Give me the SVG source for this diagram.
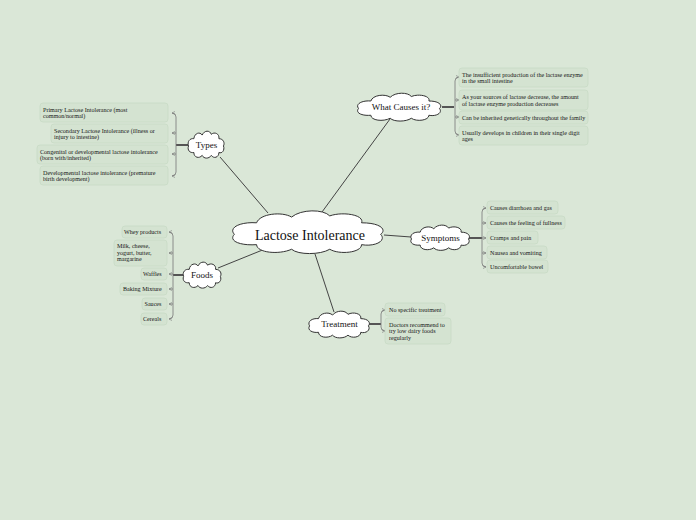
<svg xmlns="http://www.w3.org/2000/svg" xmlns:xlink="http://www.w3.org/1999/xlink" width="696" height="520" viewBox="0 0 696 520">
<style>
.bg{fill:#dae7d7}
.cloud{fill:#ffffff;stroke:#333;stroke-width:1}
.main{stroke:#444;stroke-width:1;fill:none}
.stub{stroke:#555;stroke-width:2;fill:none}
.br{stroke:#777;stroke-width:0.8;fill:none}
.arr{stroke:#777;stroke-width:0.8;fill:none;marker-end:url(#ah)}
.box{fill:#d4e3d1;stroke:#c8dbc5;stroke-width:0.8}
.t{font-family:"Liberation Serif","DejaVu Serif",serif;font-size:6.1px;fill:#151515}
.lbl{font-family:"Liberation Serif","DejaVu Serif",serif;font-size:9px;fill:#111;text-anchor:middle}
.big{font-family:"Liberation Serif","DejaVu Serif",serif;font-size:14px;fill:#111;text-anchor:middle}
</style>
<defs>
<path id="cloud" vector-effect="non-scaling-stroke" d="M4,22 C0,16 8,11 18,12 C20,4 34,2 40,7 C46,0 60,0 64,6 C72,2 86,5 84,12 C96,12 100,18 96,22 C100,28 92,33 84,31 C84,38 70,40 64,35 C58,40 44,40 40,35 C32,40 18,38 18,31 C8,32 0,28 4,22 Z"/>
<marker id="ah" markerWidth="4" markerHeight="4" refX="3" refY="2" orient="auto" markerUnits="userSpaceOnUse">
<path d="M0,0.5 L3,2 L0,3.5" fill="none" stroke="#777" stroke-width="0.6"/>
</marker>
</defs>
<rect class="bg" x="0" y="0" width="696" height="520"/>
<g id="connectors">
<line class="main" x1="322" y1="212" x2="390" y2="119"/>
<line class="main" x1="268" y1="213" x2="220" y2="157"/>
<line class="main" x1="265" y1="249" x2="218" y2="268"/>
<line class="main" x1="384" y1="235" x2="411" y2="237"/>
<line class="main" x1="315" y1="254" x2="334" y2="312"/>
<line class="stub" x1="442" y1="107" x2="454" y2="107"/>
<path class="br" d="M455,81 L455,131"/>
<path class="arr" d="M455,81 Q455,77 459,77"/>
<path class="arr" d="M455,100 L459,100"/>
<path class="arr" d="M455,117 L459,117"/>
<path class="arr" d="M455,131 Q455,135 459,135"/>
<line class="stub" x1="188" y1="145" x2="176" y2="145"/>
<path class="br" d="M176,117 L176,172"/>
<path class="arr" d="M176,117 Q176,113 172,113"/>
<path class="arr" d="M176,133 L172,133"/>
<path class="arr" d="M176,154 L172,154"/>
<path class="arr" d="M176,172 Q176,176 172,176"/>
<line class="stub" x1="183" y1="275" x2="173" y2="275"/>
<path class="br" d="M173,236 L173,315"/>
<path class="arr" d="M173,236 Q173,232 169,232"/>
<path class="arr" d="M173,253 L169,253"/>
<path class="arr" d="M173,274 L169,274"/>
<path class="arr" d="M173,289 L169,289"/>
<path class="arr" d="M173,304 L169,304"/>
<path class="arr" d="M173,315 Q173,319 169,319"/>
<line class="stub" x1="469" y1="238" x2="482" y2="238"/>
<path class="br" d="M482,212 L482,263"/>
<path class="arr" d="M482,212 Q482,208 486,208"/>
<path class="arr" d="M482,223 L486,223"/>
<path class="arr" d="M482,238 L486,238"/>
<path class="arr" d="M482,253 L486,253"/>
<path class="arr" d="M482,263 Q482,267 486,267"/>
<line class="stub" x1="369" y1="324" x2="381" y2="324"/>
<path class="br" d="M381,314 L381,327"/>
<path class="arr" d="M381,314 Q381,310 385,310"/>
<path class="arr" d="M381,327 Q381,331 385,331"/>
</g>
<g id="center">
<use href="#cloud" class="cloud" transform="translate(228,209) scale(1.59,1.15)"/>
<text class="big" x="310" y="239.5">Lactose Intolerance</text>
</g>
<g id="what-causes">
<use href="#cloud" class="cloud" transform="translate(355,92) scale(0.88,0.75)"/>
<text class="lbl" x="401" y="110">What Causes it?</text>
</g>
<g id="cause-1"><rect class="box" x="459" y="68" width="129" height="19" rx="3"/><text class="t" x="462" y="76.5">The insufficient production of the lactase enzyme</text><text class="t" x="462" y="83">in the small intestine</text></g>
<g id="cause-2"><rect class="box" x="459" y="90" width="129" height="20" rx="3"/><text class="t" x="462" y="99">As your sources of lactase decrease, the amount</text><text class="t" x="462" y="105.5">of lactase enzyme production decreases</text></g>
<g id="cause-3"><rect class="box" x="459" y="111" width="129" height="13" rx="3"/><text class="t" x="462" y="119.5">Can be inherited genetically throughout the family</text></g>
<g id="cause-4"><rect class="box" x="459" y="126" width="129" height="19" rx="3"/><text class="t" x="462" y="134.5">Usually develops in children in their single digit</text><text class="t" x="462" y="141">ages</text></g>
<g id="types">
<use href="#cloud" class="cloud" transform="translate(187,130) scale(0.38,0.725)"/>
<text class="lbl" x="206.5" y="147.5">Types</text>
</g>
<g id="type-1"><rect class="box" x="40" y="103" width="128" height="19" rx="3"/><text class="t" x="43" y="111.5">Primary Lactose Intolerance (most</text><text class="t" x="43" y="118">common/normal)</text></g>
<g id="type-2"><rect class="box" x="51" y="124" width="117" height="19" rx="3"/><text class="t" x="54" y="132.5">Secondary Lactose Intolerance (illness or</text><text class="t" x="54" y="139">injury to intestine)</text></g>
<g id="type-3"><rect class="box" x="37" y="145" width="131" height="19" rx="3"/><text class="t" x="40" y="153.5">Congenital or developmental lactose intolerance</text><text class="t" x="40" y="160">(born with/inherited)</text></g>
<g id="type-4"><rect class="box" x="40" y="166" width="128" height="19" rx="3"/><text class="t" x="43" y="174.5">Developmental lactose intolerance (premature</text><text class="t" x="43" y="181">birth development)</text></g>
<g id="foods">
<use href="#cloud" class="cloud" transform="translate(182,261) scale(0.40,0.70)"/>
<text class="lbl" x="202" y="278">Foods</text>
</g>
<g id="food-1"><rect class="box" x="122" y="226" width="45" height="12" rx="3"/><text class="t" x="124" y="233.5">Whey products</text></g>
<g id="food-2"><rect class="box" x="114" y="240" width="53" height="26" rx="3"/><text class="t" x="117" y="248">Milk, cheese,</text><text class="t" x="117" y="254.5">yogurt, butter,</text><text class="t" x="117" y="261">margarine</text></g>
<g id="food-3"><rect class="box" x="141" y="268" width="26" height="12" rx="3"/><text class="t" x="143" y="275.5">Waffles</text></g>
<g id="food-4"><rect class="box" x="120" y="283" width="47" height="12" rx="3"/><text class="t" x="123" y="290.5">Baking Mixture</text></g>
<g id="food-5"><rect class="box" x="142" y="298" width="25" height="12" rx="3"/><text class="t" x="144.5" y="305.5">Sauces</text></g>
<g id="food-6"><rect class="box" x="141" y="313" width="26" height="12" rx="3"/><text class="t" x="143" y="320.5">Cereals</text></g>
<g id="symptoms">
<use href="#cloud" class="cloud" transform="translate(409,224) scale(0.62,0.68)"/>
<text class="lbl" x="440.5" y="240.5">Symptoms</text>
</g>
<g id="sym-1"><rect class="box" x="487" y="201" width="71" height="13" rx="3"/><text class="t" x="490" y="209.5">Causes diarrhoea and gas</text></g>
<g id="sym-2"><rect class="box" x="487" y="216" width="78" height="13" rx="3"/><text class="t" x="490" y="224.5">Causes the feeling of fullness</text></g>
<g id="sym-3"><rect class="box" x="487" y="231" width="51" height="13" rx="3"/><text class="t" x="490" y="239.5">Cramps and pain</text></g>
<g id="sym-4"><rect class="box" x="487" y="246" width="60" height="13" rx="3"/><text class="t" x="490" y="254.5">Nausea and vomiting</text></g>
<g id="sym-5"><rect class="box" x="487" y="260" width="61" height="13" rx="3"/><text class="t" x="490" y="268.5">Uncomfortable bowel</text></g>
<g id="treatment">
<use href="#cloud" class="cloud" transform="translate(307,310) scale(0.64,0.72)"/>
<text class="lbl" x="339.5" y="327">Treatment</text>
</g>
<g id="treat-1"><rect class="box" x="385" y="303" width="60" height="13" rx="3"/><text class="t" x="389" y="311.5">No specific treatment</text></g>
<g id="treat-2"><rect class="box" x="385" y="318" width="66" height="26" rx="3"/><text class="t" x="389" y="326.5">Doctors recommend to</text><text class="t" x="389" y="333">try low dairy foods</text><text class="t" x="389" y="339.5">regularly</text></g>
</svg>
